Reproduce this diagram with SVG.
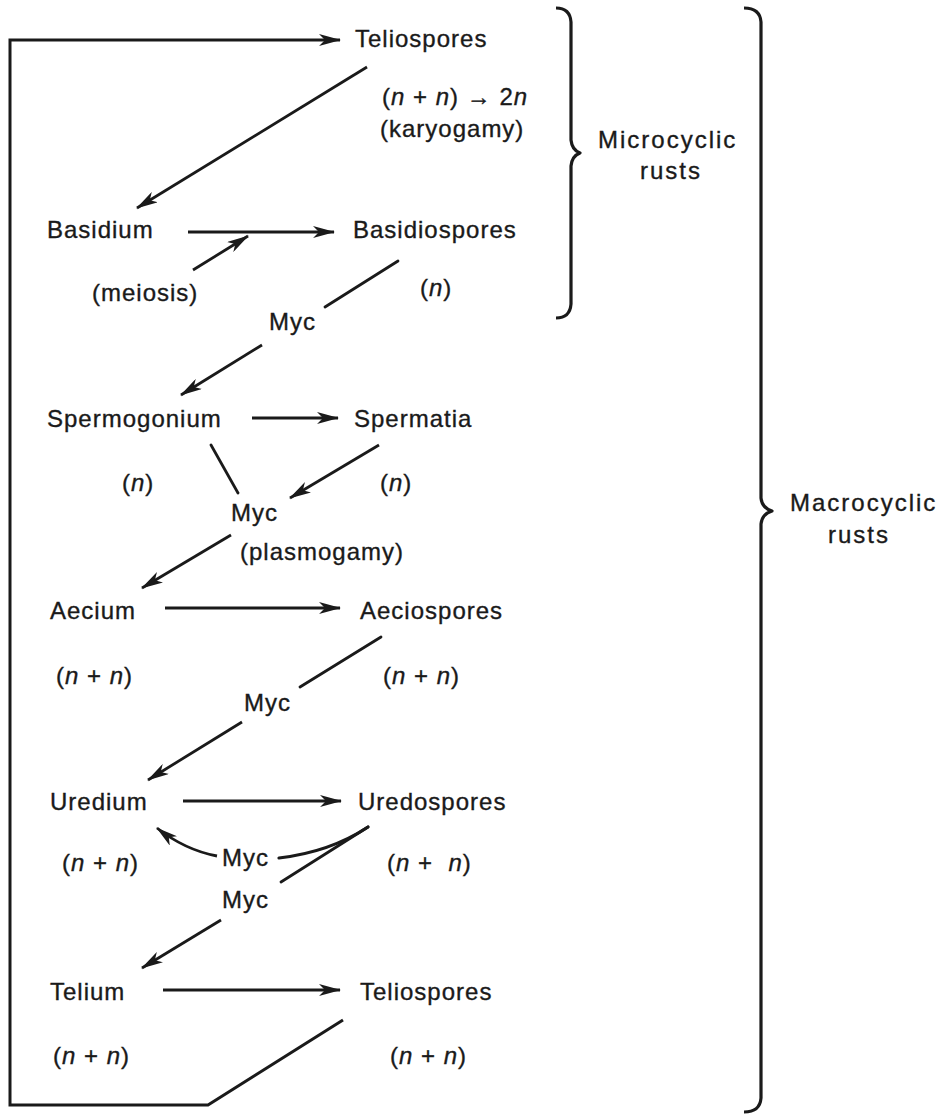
<svg xmlns="http://www.w3.org/2000/svg" width="939" height="1118" viewBox="0 0 939 1118">
<style>
text{font-family:"Liberation Sans",Arial,sans-serif;font-size:24px;letter-spacing:1px;fill:#1a1a1a;stroke:#1a1a1a;stroke-width:0.35}
.i{font-style:italic}
.side{letter-spacing:2px}
.ln{fill:none;stroke:#1a1a1a;stroke-width:2.8;stroke-linecap:round}
.ar{fill:none;stroke:#1a1a1a;stroke-width:2.8;marker-end:url(#ah)}
.br{fill:none;stroke:#1a1a1a;stroke-width:3.2;stroke-linejoin:round}
</style>
<defs>
<marker id="ah" viewBox="0 0 22 12" refX="21" refY="6" markerWidth="22" markerHeight="12" markerUnits="userSpaceOnUse" orient="auto">
<path d="M0,0 L22,6 L0,12 L6,6 Z" fill="#1a1a1a"/>
</marker>
</defs>
<rect width="939" height="1118" fill="#ffffff"/>

<g id="connectors">
<path class="ar" d="M343,1020 L208,1105 L10,1105 L10,40 L340,40" style="stroke-width:3"/>
<line class="ar" x1="367" y1="67" x2="137" y2="208"/>
<line class="ar" x1="188" y1="232" x2="334" y2="232"/>
<line class="ar" x1="193" y1="270" x2="248" y2="236"/>
<line class="ln" x1="398" y1="261" x2="325" y2="307"/>
<line class="ar" x1="262" y1="345" x2="181" y2="395"/>
<line class="ar" x1="252" y1="418" x2="338" y2="418"/>
<line class="ln" x1="211" y1="445" x2="238" y2="493"/>
<line class="ar" x1="379" y1="445" x2="290" y2="498"/>
<line class="ar" x1="231" y1="535" x2="142" y2="588"/>
<line class="ar" x1="165" y1="608" x2="340" y2="608"/>
<line class="ln" x1="381" y1="637" x2="300" y2="687"/>
<line class="ar" x1="242" y1="722" x2="148" y2="780"/>
<line class="ar" x1="183" y1="801" x2="341" y2="801"/>
<path class="ar" d="M217,856 Q185,850 157,828"/>
<path class="ln" d="M368,827 Q330,852 279,858" style="stroke-width:3.2"/>
<line class="ln" x1="368" y1="827" x2="281" y2="882"/>
<line class="ar" x1="221" y1="920" x2="142" y2="968"/>
<line class="ar" x1="163" y1="990" x2="340" y2="990"/>
<path class="br" d="M556,8 Q570,8 571,22 L571,140 Q572,150 580,153 Q572,156 571,166 L571,304 Q570,318 556,318"/>
<path class="br" d="M744,8 Q760,8 761,22 L761,498 Q762,508 772,511 Q762,514 761,524 L761,1098 Q760,1112 744,1112"/>
</g>

<g id="teliospores-top"><text x="355" y="47">Teliospores</text></g>
<g id="karyogamy">
<text x="382" y="105">(<tspan class="i">n</tspan> + <tspan class="i">n</tspan>) → 2<tspan class="i">n</tspan></text>
<text x="380" y="137">(karyogamy)</text>
</g>
<g id="basidium"><text x="47" y="238">Basidium</text></g>
<g id="basidiospores"><text x="353" y="238">Basidiospores</text><text x="420" y="296">(<tspan class="i">n</tspan>)</text></g>
<g id="meiosis"><text x="92" y="301">(meiosis)</text></g>
<g id="myc1"><text x="269" y="330">Myc</text></g>
<g id="spermogonium"><text x="47" y="427">Spermogonium</text><text x="122" y="491">(<tspan class="i">n</tspan>)</text></g>
<g id="spermatia"><text x="354" y="427">Spermatia</text><text x="380" y="491">(<tspan class="i">n</tspan>)</text></g>
<g id="myc2"><text x="231" y="521">Myc</text><text x="240" y="560">(plasmogamy)</text></g>
<g id="aecium"><text x="50" y="619">Aecium</text><text x="56" y="684">(<tspan class="i">n</tspan> + <tspan class="i">n</tspan>)</text></g>
<g id="aeciospores"><text x="360" y="619">Aeciospores</text><text x="383" y="684">(<tspan class="i">n</tspan> + <tspan class="i">n</tspan>)</text></g>
<g id="myc3"><text x="244" y="711">Myc</text></g>
<g id="uredium"><text x="50" y="810">Uredium</text><text x="62" y="871">(<tspan class="i">n</tspan> + <tspan class="i">n</tspan>)</text></g>
<g id="uredospores"><text x="358" y="810">Uredospores</text><text x="387" y="871" xml:space="preserve">(<tspan class="i">n</tspan> +  <tspan class="i">n</tspan>)</text></g>
<g id="myc4"><text x="222" y="866">Myc</text></g>
<g id="myc5"><text x="222" y="908">Myc</text></g>
<g id="telium"><text x="50" y="1000">Telium</text><text x="53" y="1064">(<tspan class="i">n</tspan> + <tspan class="i">n</tspan>)</text></g>
<g id="teliospores-bottom"><text x="360" y="1000">Teliospores</text><text x="390" y="1064">(<tspan class="i">n</tspan> + <tspan class="i">n</tspan>)</text></g>
<g id="microcyclic"><text class="side" x="598" y="148">Microcyclic</text><text class="side" x="640" y="179">rusts</text></g>
<g id="macrocyclic"><text class="side" x="790" y="511">Macrocyclic</text><text class="side" x="828" y="543">rusts</text></g>
</svg>
